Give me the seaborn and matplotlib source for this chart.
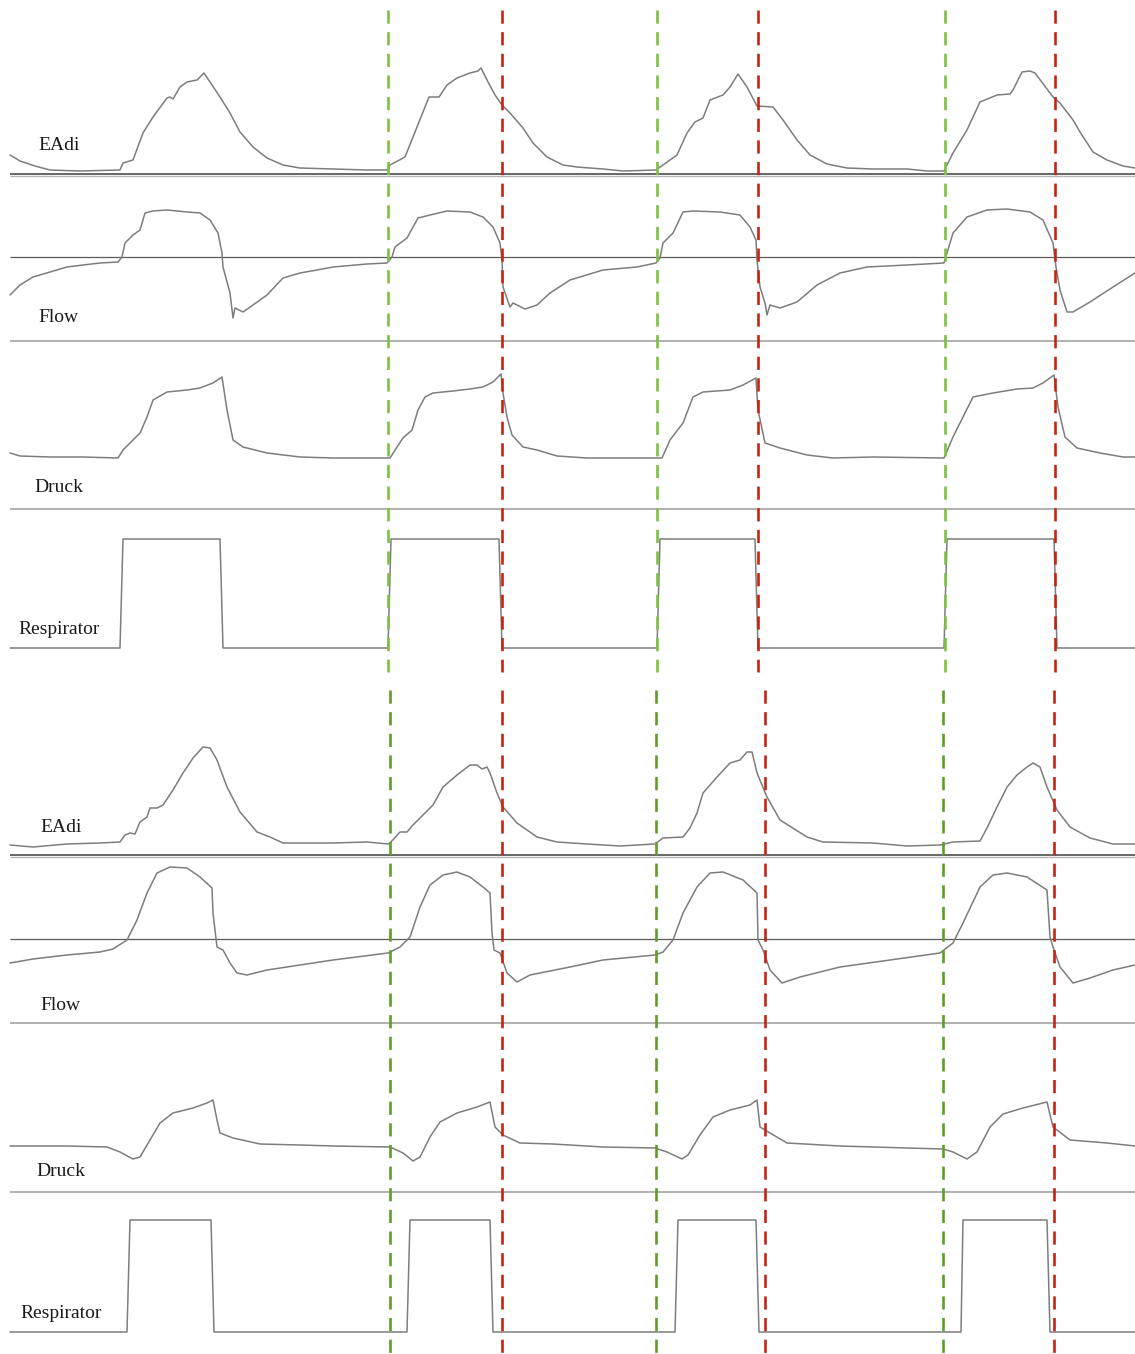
import numpy as np
import pandas as pd
import matplotlib
matplotlib.use("Agg")
import matplotlib.pyplot as plt
import seaborn as sns

# ---------------------------------------------------------------
# Signals (time in samples, amplitude in arbitrary units above the
# channel's reference level)
# ---------------------------------------------------------------

# Upper recording
top_eadi_t = [10, 20, 35, 50, 80, 120, 123, 133, 143, 153, 167, 170, 173, 180, 187, 197, 200, 204, 210, 220,
              230, 240, 253, 267, 283, 300, 333, 367, 387, 390, 405, 417, 429, 439, 447, 457, 470, 478, 481,
              487, 495, 502, 510, 523, 533, 547, 563, 577, 603, 623, 656, 663, 677, 687, 695, 703, 710, 723,
              730, 738, 747, 757, 773, 783, 797, 810, 827, 847, 873, 907, 927, 944, 953, 967, 980, 997, 1010,
              1013, 1022, 1030, 1035, 1053, 1060, 1073, 1080, 1093, 1107, 1123, 1135]
top_eadi_a = [19, 13, 8, 4, 3, 4, 11, 14, 41, 57, 76, 77, 75, 87, 92, 94, 97, 101, 92, 77,
              61, 42, 27, 16, 9, 6, 5, 4, 4, 9, 17, 47, 77, 77, 89, 96, 101, 103, 106,
              94, 79, 69, 61, 46, 31, 17, 9, 7, 5, 3, 4, 9, 19, 41, 52, 56, 74, 79,
              87, 100, 87, 68, 67, 54, 34, 19, 10, 6, 5, 5, 3, 3, 21, 44, 72, 79, 80,
              84, 102, 103, 101, 77, 71, 54, 42, 22, 14, 8, 6]

top_flow_t = [10, 20, 33, 50, 67, 83, 100, 118, 122, 125, 133, 140, 145, 153, 167, 187, 200, 210, 218, 222,
              223, 230, 233, 235, 243, 253, 267, 283, 300, 317, 333, 367, 387, 392, 395, 407, 418, 430, 447,
              470, 483, 493, 500, 502, 503, 510, 513, 525, 537, 550, 570, 603, 637, 656, 660, 663, 673, 683,
              693, 720, 740, 750, 756, 757, 760, 765, 767, 770, 780, 797, 817, 840, 867, 907, 944, 947, 953,
              967, 987, 1007, 1030, 1043, 1053, 1056, 1060, 1067, 1073, 1090, 1113, 1135]
top_flow_a = [-38, -28, -20, -15, -10, -8, -6, -5, 0, 14, 22, 27, 44, 46, 47, 45, 44, 37, 24, 4,
              -10, -36, -61, -51, -55, -48, -38, -21, -16, -13, -10, -7, -6, 0, 10, 19, 39, 42, 46,
              45, 40, 30, 14, -3, -30, -50, -46, -52, -48, -36, -23, -13, -10, -6, -1, 14, 24, 45,
              46, 45, 42, 30, 17, -3, -30, -46, -58, -48, -51, -45, -28, -16, -10, -8, -6, 4, 24,
              40, 47, 48, 45, 37, 14, -10, -33, -55, -55, -45, -30, -16]

top_druck_t = [10, 20, 50, 83, 118, 123, 140, 147, 153, 167, 187, 200, 213, 222, 227, 233, 243, 267, 300,
               333, 390, 397, 403, 412, 418, 425, 433, 453, 470, 483, 493, 501, 503, 507, 512, 523, 537,
               557, 587, 662, 670, 683, 693, 703, 730, 743, 756, 758, 765, 780, 807, 833, 873, 944, 953,
               963, 973, 993, 1017, 1033, 1043, 1054, 1058, 1065, 1077, 1100, 1123, 1135]
top_druck_a = [56, 53, 52, 52, 51, 59, 76, 92, 109, 117, 119, 121, 126, 132, 99, 69, 62, 56, 52,
               51, 51, 62, 71, 79, 99, 112, 116, 118, 120, 122, 127, 135, 116, 92, 74, 62, 59,
               53, 51, 51, 69, 86, 112, 117, 119, 124, 131, 99, 66, 61, 54, 51, 52, 51, 72,
               92, 112, 116, 120, 121, 126, 134, 102, 72, 61, 56, 52, 52]

top_resp_t = [10, 120, 123, 220, 223, 388, 391, 499, 502, 657, 660, 755, 758, 944, 947, 1054, 1057, 1135]
top_resp_a = [0, 0, 109, 109, 0, 0, 109, 109, 0, 0, 109, 109, 0, 0, 109, 109, 0, 0]

# Lower recording
bot_eadi_t = [10, 33, 67, 100, 120, 125, 130, 135, 140, 147, 150, 157, 163, 173, 183, 193, 203, 210, 217,
              227, 240, 257, 270, 283, 333, 367, 388, 390, 400, 407, 413, 423, 433, 443, 457, 470, 477,
              482, 487, 490, 497, 503, 517, 537, 557, 587, 620, 655, 663, 683, 690, 697, 703, 717, 730,
              740, 747, 752, 757, 767, 780, 807, 823, 873, 907, 940, 953, 980, 987, 997, 1007, 1017, 1027,
              1033, 1040, 1047, 1057, 1070, 1090, 1113, 1135]
bot_eadi_a = [10, 8, 11, 12, 13, 20, 22, 21, 33, 38, 47, 47, 50, 65, 82, 97, 108, 107, 95,
              68, 43, 23, 18, 12, 12, 13, 11, 12, 23, 23, 30, 40, 50, 68, 80, 90, 90,
              86, 88, 82, 62, 48, 32, 18, 13, 11, 9, 11, 17, 18, 27, 42, 62, 78, 92,
              95, 103, 103, 82, 58, 35, 18, 13, 12, 9, 10, 13, 14, 27, 48, 68, 80, 88,
              92, 88, 68, 45, 28, 17, 11, 11]

bot_flow_t = [10, 33, 67, 100, 113, 127, 137, 147, 157, 170, 187, 200, 212, 213, 217, 223, 230, 237, 247,
              267, 300, 333, 388, 400, 410, 420, 430, 443, 457, 470, 483, 490, 492, 494, 500, 507, 517,
              530, 570, 603, 655, 663, 673, 683, 697, 710, 723, 743, 757, 758, 763, 770, 782, 800, 840,
              890, 940, 953, 963, 980, 993, 1007, 1027, 1047, 1050, 1053, 1060, 1073, 1090, 1113, 1135]
bot_flow_a = [-24, -20, -16, -13, -10, -1, 19, 46, 66, 72, 71, 62, 51, 26, -8, -11, -24, -34, -36,
              -31, -26, -21, -14, -8, 2, 32, 54, 64, 67, 62, 52, 46, 6, -11, -14, -34, -43,
              -36, -28, -21, -16, -13, -1, 26, 52, 66, 67, 59, 46, -1, -11, -31, -44, -38, -28,
              -21, -14, -4, 16, 52, 64, 66, 62, 49, 2, -8, -28, -44, -39, -31, -26]

bot_druck_t = [10, 67, 107, 120, 133, 140, 150, 160, 173, 193, 207, 213, 217, 220, 233, 260, 300, 333, 390,
               403, 413, 420, 430, 440, 457, 477, 490, 495, 503, 520, 553, 603, 655, 667, 682, 688, 700,
               713, 730, 750, 757, 760, 770, 787, 840, 907, 943, 953, 967, 977, 990, 1003, 1023, 1047,
               1053, 1070, 1107, 1135]
bot_druck_a = [46, 46, 45, 40, 33, 35, 52, 69, 79, 84, 89, 92, 72, 59, 54, 48, 47, 46, 45,
               39, 31, 35, 55, 70, 79, 85, 90, 65, 57, 49, 48, 45, 44, 40, 33, 37, 57,
               75, 82, 87, 92, 65, 59, 49, 46, 44, 43, 40, 33, 40, 65, 78, 84, 90,
               65, 52, 49, 46]

bot_resp_t = [10, 127, 130, 211, 214, 407, 410, 490, 493, 675, 678, 756, 759, 961, 963, 1047, 1050, 1135]
bot_resp_a = [0, 0, 112, 112, 0, 0, 112, 112, 0, 0, 112, 112, 0, 0, 112, 112, 0, 0]

# Trigger events: start of neural inspiration (green) and cycling-off (red)
top_onsets = [388, 657, 945]
top_offsets = [502, 758, 1055]
bot_onsets = [390, 656, 943]
bot_offsets = [502, 765, 1054]

channel_names = ["EAdi", "Flow", "Druck", "Respirator"]

# ---------------------------------------------------------------
# Layout
# ---------------------------------------------------------------
W, H = 1135, 1354
sns.set_theme(style="white")
plt.rcParams["font.family"] = ["Liberation Serif", "DejaVu Serif"]

fig = plt.figure(figsize=(W / 100, H / 100), dpi=100)
ax = fig.add_axes([0, 0, 1, 1])
ax.set_xlim(0, W)
ax.set_ylim(H, 0)
ax.axis("off")

TRACE = "#7d7d7d"
X0, X1 = 10, 1135

panels = [
    dict(refs=[174, 257, 509, 648],
         seps=[509, 341],
         signals=[(top_eadi_t, top_eadi_a), (top_flow_t, top_flow_a),
                  (top_druck_t, top_druck_a), (top_resp_t, top_resp_a)],
         labels=[(38, 145), (38, 318), (34, 488), (18, 629)],
         onsets=top_onsets, offsets=top_offsets, span=(10, 672), green="#7cc142"),
    dict(refs=[855, 939, 1192, 1332],
         seps=[1192, 1023],
         signals=[(bot_eadi_t, bot_eadi_a), (bot_flow_t, bot_flow_a),
                  (bot_druck_t, bot_druck_a), (bot_resp_t, bot_resp_a)],
         labels=[(40, 828), (40, 1005), (36, 1172), (20, 1313)],
         onsets=bot_onsets, offsets=bot_offsets, span=(690, 1354), green="#5e9e2c"),
]

for p in panels:
    refs = p["refs"]
    # channel separators
    ax.hlines(refs[0], X0, X1, color="#5a5a5a", lw=1.3, zorder=2)
    ax.hlines(refs[0] + 1.6, X0, X1, color="#b5b5b5", lw=1.0, zorder=2)
    ax.hlines(refs[1], X0, X1, color="#5a5a5a", lw=0.9, zorder=2)
    for y in p["seps"]:
        ax.hlines(y, X0, X1, color="#ababab", lw=1.3, zorder=2)

    # signal traces
    for (t, a), ref in zip(p["signals"], refs):
        df = pd.DataFrame({"t": t, "y": ref - np.asarray(a, dtype=float)})
        sns.lineplot(data=df, x="t", y="y", ax=ax, sort=False, estimator=None,
                     color=TRACE, lw=1.1, legend=False, zorder=3)

    # channel names
    for name, (lx, ly) in zip(channel_names, p["labels"]):
        ax.text(lx, ly, name, fontsize=14, color="#1a1a1a", ha="left", va="center",
                family=["Liberation Serif", "DejaVu Serif"], zorder=4)

    # trigger markers
    y0, y1 = p["span"]
    for x in p["onsets"]:
        ax.plot([x, x], [y0, y1], color=p["green"], lw=1.9,
                linestyle=(0, (5.0, 3.2)), zorder=5)
    for x in p["offsets"]:
        ax.plot([x, x], [y0, y1], color="#c42414", lw=1.9,
                linestyle=(0, (5.0, 3.2)), zorder=5)

ax.set_xlabel("")
ax.set_ylabel("")
fig.savefig("out.png", dpi=100, facecolor="white")
